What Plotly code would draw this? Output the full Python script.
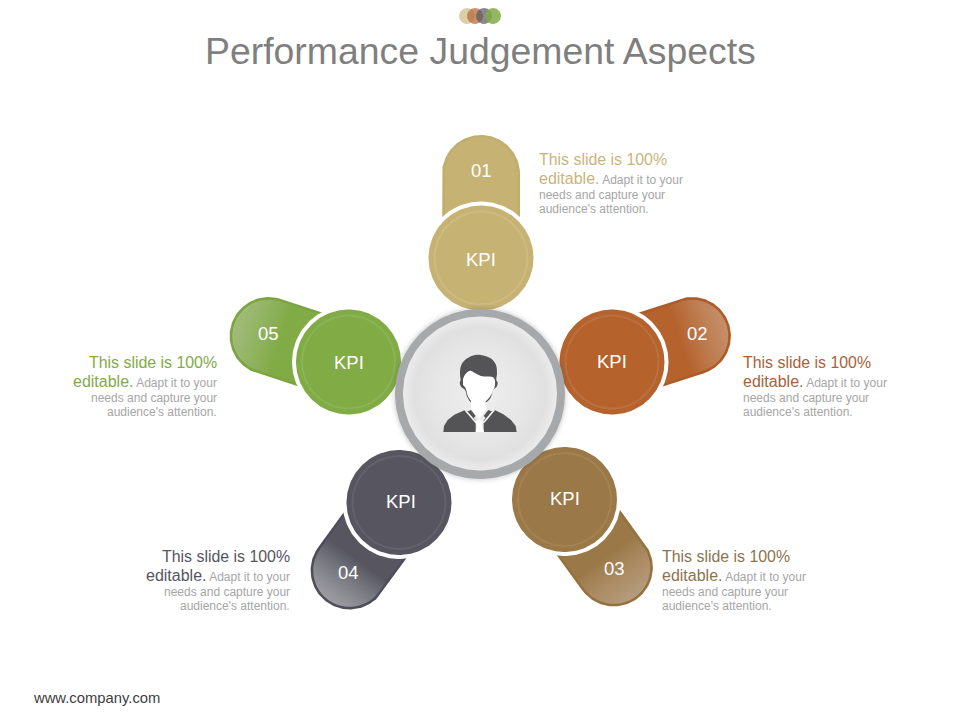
#!/usr/bin/env python
# -*- coding: utf-8 -*-
import numpy as np
import plotly.graph_objects as go

TITLE = "Performance Judgement Aspects"
FOOTER = "www.company.com"

# one entry per petal, in the order 01..05
NUMBERS = ["01", "02", "03", "04", "05"]
KPI_X = [481, 612, 564.5, 399, 348.5]
KPI_Y = [258, 362, 499.5, 502.5, 362]
KPI_LABEL_X = [481, 612, 565, 401, 349]
KPI_LABEL_Y = [259, 361, 498, 501, 362]
NUM_LABEL_X = [481, 697, 614, 348, 268]
NUM_LABEL_Y = [170, 333, 568, 572, 333]
ANGLES = [-90, -18, 54, 126, 198]
FILLS = ["#c6b272", "#b5622d", "#9b7847", "#565560", "#81ab45"]
RIMS = ["#c2ad6b", "#ac5b2b", "#94723f", "#4e4d58", "#7ba540"]
RINGS = ["#cdbb80", "#bc6f3f", "#a58254", "#62616c", "#8cb356"]
HEAD_COLORS = ["#c8b57d", "#a8623a", "#8c734f", "#56555f", "#82aa4a"]
GLOSS = [0.005, 0.024, 0.022, 0.034, 0.024]

TEXT_X = [537.5, 741.5, 660.5, 291, 217.5]
TEXT_Y = [159, 362, 556, 556, 362]
TEXT_SIDE = ["left", "left", "left", "right", "right"]
TEXT_LINES = ["This slide is 100%", "editable.", "Adapt it to your",
              "needs and capture your", "audience's attention."]

DOT_X = [467, 475, 484, 493]
DOT_COLORS = ["rgba(200,181,125,0.65)", "rgba(181,98,45,0.7)",
              "rgba(86,85,96,0.7)", "rgba(129,171,69,0.85)"]

# person icon, traced in units of 1/3 px from (435, 345)
ICON_HEAD = [(77, 105), (75, 85), (78, 62), (90, 45), (110, 33), (130, 29), (150, 33), (170, 42),
             (183, 60), (186, 85), (184, 105), (188, 113), (185, 125), (175, 135), (166, 160),
             (150, 174), (130, 179), (110, 174), (97, 157), (90, 135), (78, 125), (74, 113)]
ICON_FACE = [(84, 102), (91, 88), (105, 77), (120, 84), (138, 93), (176, 98), (180, 120), (173, 140),
             (161, 160), (147, 172), (130, 176), (112, 171), (98, 152), (92, 130), (84, 120)]
ICON_NECK = [(108, 165), (152, 165), (152, 195), (133, 222), (108, 195)]
ICON_BODY = [(25, 261), (27, 243), (38, 225), (58, 209), (92, 194), (108, 205), (122, 228), (122, 261),
             (146, 261), (146, 228), (160, 205), (178, 194), (205, 208), (228, 225), (242, 243), (245, 261)]
ICON_TIE = [(120, 232), (133, 222), (147, 232), (140, 240), (147, 261), (122, 261), (127, 242)]
ICON_COLLAR_L = [(90, 194), (122, 232)]
ICON_COLLAR_R = [(178, 194), (147, 232)]
ICON_FOLD_L = [(108, 195), (122, 213), (112, 222), (96, 200)]
ICON_FOLD_R = [(160, 195), (146, 213), (156, 222), (172, 200)]


def circle(cx, cy, r, n=160):
    t = np.linspace(0, 2 * np.pi, n)
    return cx + r * np.cos(t), cy + r * np.sin(t)


def capsule(kx, ky, angle, r, length=84, n=80):
    # straight back at the KPI centre, rounded at the far end
    a = np.radians(angle)
    t = np.linspace(a - np.pi / 2, a + np.pi / 2, n)
    ex, ey = kx + length * np.cos(a), ky + length * np.sin(a)
    px, py = -np.sin(a), np.cos(a)
    xs = np.r_[kx + r * px * -1, ex + r * np.cos(t), kx + r * px]
    ys = np.r_[ky + r * py * -1, ey + r * np.sin(t), ky + r * py]
    return xs, ys


def cap_segment(kx, ky, angle, r, d, length=84, n=60):
    # part of the rounded end further along the axis than offset d
    a = np.radians(angle)
    half = np.arccos(max(d, 0) / r)
    t = np.linspace(a - half, a + half, n)
    ex, ey = kx + length * np.cos(a), ky + length * np.sin(a)
    xs, ys = ex + r * np.cos(t), ey + r * np.sin(t)
    if d < 0:
        ax, ay = np.cos(a), np.sin(a)
        px, py = -ay, ax
        xs = np.r_[ex + d * ax - r * px, xs, ex + d * ax + r * px]
        ys = np.r_[ey + d * ay - r * py, ys, ey + d * ay + r * py]
    return xs, ys


def icon_xy(points):
    return [435 + p[0] / 3 for p in points], [345 + p[1] / 3 for p in points]


fig = go.Figure()


def add_fill(xs, ys, color, shape="linear", **kw):
    fig.add_trace(go.Scatter(x=xs, y=ys, mode="lines", fill="toself", fillcolor=color,
                             line=dict(width=0, color=color, shape=shape), hoverinfo="skip", **kw))


# title dots
for x, c in zip(DOT_X, DOT_COLORS):
    add_fill(*circle(x, 16, 8), c)

# petals
for i in range(5):
    add_fill(*capsule(KPI_X[i], KPI_Y[i], ANGLES[i], 39), RIMS[i])
    add_fill(*capsule(KPI_X[i], KPI_Y[i], ANGLES[i], 36.5), FILLS[i])
    for d in range(-12, 34, 3):
        add_fill(*cap_segment(KPI_X[i], KPI_Y[i], ANGLES[i], 36.5, d), "rgba(255,255,255,%s)" % GLOSS[i])

# KPI discs sit over the petals
for i in range(5):
    add_fill(*circle(KPI_X[i], KPI_Y[i], 56.5), "#ffffff")
    add_fill(*circle(KPI_X[i], KPI_Y[i], 52.5), FILLS[i])
    add_fill(*circle(KPI_X[i], KPI_Y[i], 47.5), RINGS[i])
    add_fill(*circle(KPI_X[i], KPI_Y[i], 45.5), FILLS[i])

# hub: soft shadow, grey ring, shaded disc
for r, alpha in [(90, 0.03), (88, 0.05), (86.5, 0.08)]:
    add_fill(*circle(480, 394, r), "rgba(90,90,90,%s)" % alpha)
add_fill(*circle(480, 394, 85), "#a6a8aa")
fig.add_trace(go.Scatter(
    x=circle(480, 393.5, 77)[0], y=circle(480, 393.5, 77)[1], mode="lines", fill="toself",
    line=dict(width=0), hoverinfo="skip",
    fillgradient=dict(type="radial", colorscale=[[0, "#eeeeee"], [0.6, "#e6e6e6"], [0.85, "#e0e0e0"], [1, "#ebebeb"]])))

# person icon
icon_dark = "#545456"
add_fill(*icon_xy(ICON_HEAD), icon_dark, shape="spline")
add_fill(*icon_xy(ICON_NECK), "#ffffff")
add_fill(*icon_xy(ICON_FACE), "#ffffff", shape="spline")
add_fill(*icon_xy(ICON_BODY), icon_dark)
add_fill(*icon_xy(ICON_FOLD_L), icon_dark)
add_fill(*icon_xy(ICON_FOLD_R), icon_dark)
for seg in (ICON_COLLAR_L, ICON_COLLAR_R):
    sx, sy = icon_xy(seg)
    fig.add_trace(go.Scatter(x=sx, y=sy, mode="lines", line=dict(color="#ffffff", width=1.5), hoverinfo="skip"))
add_fill(*icon_xy(ICON_TIE), "#ffffff")

annotations = [
    dict(x=480, y=51, text=TITLE, font=dict(size=37.4, color="#7f7f7f")),
    dict(x=31.5, y=698, text=FOOTER, xanchor="left", font=dict(size=14.8, color="#404040")),
]
for i in range(5):
    annotations.append(dict(x=KPI_LABEL_X[i], y=KPI_LABEL_Y[i], text="KPI", font=dict(size=18.5, color="#ffffff")))
    annotations.append(dict(x=NUM_LABEL_X[i], y=NUM_LABEL_Y[i], text=NUMBERS[i], font=dict(size=18.5, color="#ffffff")))
    second = ('<span style="font-size:16px;fill:%s">%s</span> %s'
              % (HEAD_COLORS[i], TEXT_LINES[1], TEXT_LINES[2]))
    rows = [(0, TEXT_LINES[0], 15.9, HEAD_COLORS[i]), (19, second, 12, "#a6a6a6"),
            (35.5, TEXT_LINES[3], 12, "#a6a6a6"), (50, TEXT_LINES[4], 12, "#a6a6a6")]
    for dy, text, size, color in rows:
        annotations.append(dict(x=TEXT_X[i], y=TEXT_Y[i] + dy, text=text, xanchor=TEXT_SIDE[i],
                                align=TEXT_SIDE[i], font=dict(size=size, color=color)))
for a in annotations:
    a.update(xref="x", yref="y", showarrow=False, borderpad=0)
    a.setdefault("xanchor", "center")
    a.setdefault("yanchor", "middle")

fig.update_layout(
    width=960, height=720,
    margin=dict(l=0, r=0, t=0, b=0),
    showlegend=False,
    hovermode=False,
    paper_bgcolor="#ffffff",
    plot_bgcolor="#ffffff",
    font=dict(family="Liberation Sans"),
    annotations=annotations,
    xaxis=dict(range=[0, 960], visible=False, fixedrange=True),
    yaxis=dict(range=[720, 0], visible=False, fixedrange=True),
)

fig.write_html("out.html", config=dict(displayModeBar=False),
               post_script="document.body.style.margin='0';document.body.style.overflow='hidden';")
